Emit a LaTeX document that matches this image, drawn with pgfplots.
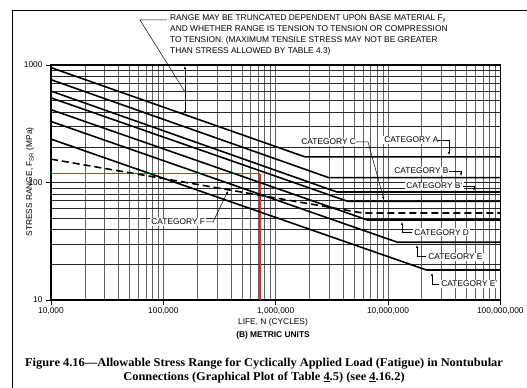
\documentclass[border=0pt]{standalone}
\usepackage{fontspec}
\setmainfont{Liberation Sans}
\newfontfamily\capfont[Ligatures=TeX, FakeStretch=1.04]{Liberation Serif}
\usepackage{pgfplots}
\pgfplotsset{compat=1.18}
\usetikzlibrary{arrows.meta}
\definecolor{redline}{RGB}{230,40,40}
\newcommand{\sm}{\fontsize{8.4}{11}\selectfont}
\begin{document}
\begin{tikzpicture}
\useasboundingbox (0,0) rectangle (527bp,388bp);
\begin{axis}[
  at={(51bp,88bp)}, anchor=south west,
  scale only axis, width=449.3bp, height=235bp,
  xmode=log, ymode=log,
  xmin=1e4, xmax=1e8, ymin=10, ymax=1000,
  xtick={1e4,1e5,1e6,1e7,1e8},
  xticklabels={{10,000},{100,000},{1,000,000},{10,000,000},{100,000,000}},
  ytick={10,100,1000}, yticklabels={10,100,1000},
  minor xtick={2e4,3e4,4e4,5e4,6e4,7e4,8e4,9e4,2e5,3e5,4e5,5e5,6e5,7e5,8e5,9e5,2e6,3e6,4e6,5e6,6e6,7e6,8e6,9e6,2e7,3e7,4e7,5e7,6e7,7e7,8e7,9e7},
  minor ytick={20,30,40,50,60,70,80,90,200,300,400,500,600,700,800,900},
  grid=both,
  x grid style={black!62, line width=0.6bp},
  y grid style={black!85, line width=0.5bp},
  tick align=outside, tick pos=left,
  major tick length=5bp, minor tick length=0pt,
  tick label style={font=\sm},
  xticklabel style={yshift=1bp},
  axis line style={line width=1.2bp},
  every tick/.style={black, line width=0.6bp},
]
% red reading lines (drawn first, under the curves)
\addplot[redline, line width=1.4bp] coordinates {(1.01e4,119) (7.26e5,119)};
\addplot[redline, line width=1.2bp] coordinates {(7.26e5,119) (7.26e5,10)};
% Category A
\addplot[black, line width=1.6bp] coordinates {(1e4,950) (1.831e6,165) (1e8,165)};
% Category B
\addplot[black, line width=1.6bp] coordinates {(1e4,750) (2.966e6,110) (1e8,110)};
% Category B'
\addplot[black, line width=1.6bp] coordinates {(1e4,600) (3.51e6,83) (1e8,83)};
% Category C
\addplot[black, line width=1.6bp] coordinates {(1e4,525) (4.407e6,69) (1e8,69)};
% Category D
\addplot[black, line width=1.6bp] coordinates {(1e4,416.7) (6.545e6,48) (1e8,48)};
% Category E
\addplot[black, line width=1.6bp] coordinates {(1e4,330.7) (1.215e7,31) (1e8,31)};
% Category E'
\addplot[black, line width=1.6bp] coordinates {(1e4,234.1) (2.2e7,18) (1e8,18)};
% Category F (dashed)
\addplot[black, line width=1.6bp, dash pattern=on 7bp off 4bp] coordinates {(1e4,158) (5.96e6,55) (1e8,55)};
\end{axis}
\begin{scope}[x=1bp, y=-1bp, yshift=388bp]
  % frame
  \draw[line width=1.5bp] (12.5,400) -- (12.5,10.5) -- (540,10.5);
  % range note
  \node[anchor=north west, align=left, font=\sm, inner sep=0pt] at (170,14.5)
    {RANGE MAY BE TRUNCATED DEPENDENT UPON BASE MATERIAL F\textsubscript{y}\\
     AND WHETHER RANGE IS TENSION TO TENSION OR COMPRESSION\\
     TO TENSION. (MAXIMUM TENSILE STRESS MAY NOT BE GREATER\\
     THAN STRESS ALLOWED BY TABLE 4.3)};
  \draw[line width=0.5bp] (167,20) -- (140,20) -- (185,92);
  \draw[line width=0.6bp, {Latex[length=3bp,width=2.4bp]}-{Latex[length=3bp,width=2.4bp]}] (185,66) -- (185,114);
  % axis labels
  \node[font=\sm] at (273,322) {LIFE, N (CYCLES)};
  \node[font=\sm\bfseries] at (273,335) {(B) METRIC UNITS};
  \node[font=\sm, rotate=90] at (30,182) {STRESS RANGE, F\textsubscript{SR} (MPa)};
  % category labels
  \tikzset{cat/.style={font=\sm, fill=white, inner sep=1.2bp, anchor=west},
           ld/.style={line width=0.5bp, -{Latex[length=3bp,width=2.4bp]}}}
  \node[cat] at (383,140) {CATEGORY A};
  \draw[ld] (438,140) -- (449,140) -- (449,155);
  \node[cat] at (393,170.7) {CATEGORY B};
  \draw[ld] (449,171) -- (461,171) -- (461,176);
  \node[cat] at (405,185.7) {CATEGORY B'};
  \draw[ld] (463,186) -- (474,186) -- (474,191);
  \node[cat] at (300,141.7) {CATEGORY C};
  \draw[ld] (356,142) -- (368,142) -- (384,200);
  \node[cat] at (413,232.3) {CATEGORY D};
  \draw[ld] (412,232.3) -- (402,232.3) -- (402,222);
  \node[cat] at (427,256.7) {CATEGORY E};
  \draw[ld] (426,256.7) -- (417,256.7) -- (417,245);
  \node[cat] at (440,284) {CATEGORY E'};
  \draw[ld] (439,284) -- (432,284) -- (432,273);
  \node[cat] at (150,222) {CATEGORY F};
  \draw[ld] (206,222) -- (213,222) -- (228,191);
  % caption
  \node[font=\capfont\bfseries\fontsize{12}{13.5}\selectfont, align=center] at (264,370.5)
    {Figure 4.16—Allowable Stress Range for Cyclically Applied Load (Fatigue) in Nontubular\\
     Connections (Graphical Plot of Table \underline{4}.5) (see \underline{4}.16.2)};
\end{scope}
\end{tikzpicture}
\end{document}
